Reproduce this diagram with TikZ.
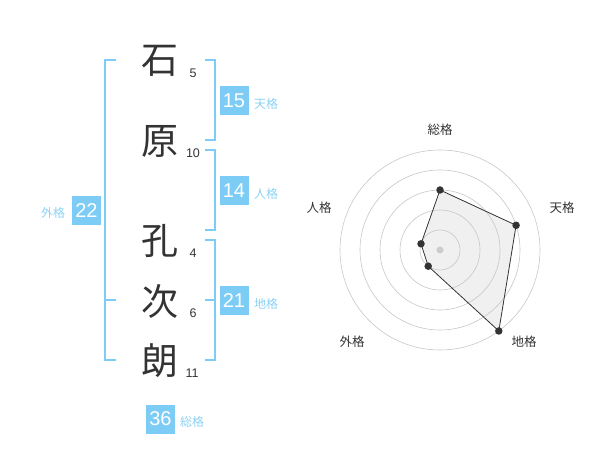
\documentclass[tikz,border=0pt]{standalone}
\usepackage{fontspec}
\setmainfont{Liberation Sans}
\newfontfamily\cjk{Noto Sans CJK JP}
\definecolor{kblue}{RGB}{125,204,246}
\definecolor{klabel}{RGB}{140,210,246}
\definecolor{kdark}{RGB}{51,51,51}
\begin{document}
\begin{tikzpicture}[x=1pt,y=-1pt,
 kanji/.style={font=\cjk\fontsize{37}{37}\selectfont, text=kdark, inner sep=0},
 strokes/.style={font=\fontsize{12.5}{12.5}\selectfont, text=kdark, inner sep=0},
 numbox/.style={fill=kblue, text=white, font=\fontsize{20}{20}\selectfont, minimum width=29pt, minimum height=29pt, inner sep=0},
 kaku/.style={text=klabel, font=\cjk\fontsize{12}{12}\selectfont, inner sep=0},
 brk/.style={draw=kblue, line width=2pt},
 ring/.style={draw=black!22, line width=0.6pt},
 rlabel/.style={font=\cjk\fontsize{12.5}{12.5}\selectfont, text=kdark, inner sep=0},
 rdot/.style={circle, fill=kdark, minimum size=7.5pt, inner sep=0}]
\useasboundingbox (0,0) rectangle (600,470);
% brackets
\draw[brk] (116,60) -- (105,60) -- (105,360) -- (116,360);
\draw[brk] (105,300) -- (116,300);
\draw[brk] (205,60) -- (215,60) -- (215,140) -- (205,140);
\draw[brk] (205,150) -- (215,150) -- (215,230) -- (205,230);
\draw[brk] (205,240) -- (215,240) -- (215,360) -- (205,360);
\draw[brk] (205,300) -- (215,300);
% characters
\node[kanji] (k1) at (160,61) {石};
\node[kanji] (k2) at (160,141) {原};
\node[kanji] (k3) at (160,241) {孔};
\node[kanji] (k4) at (160,301) {次};
\node[kanji] (k5) at (160,361) {朗};
\node[strokes] (s1) at (193,73) {5};
\node[strokes] (s2) at (193,153) {10};
\node[strokes] (s3) at (193,253) {4};
\node[strokes] (s4) at (193,313) {6};
\node[strokes] (s5) at (192,373) {11};
% boxes
\node[numbox] (b1) at (234,101) {15};
\node[kaku] (l1) at (266,104) {天格};
\node[numbox] (b2) at (234,191) {14};
\node[kaku] (l2) at (266,194) {人格};
\node[numbox] (b3) at (234,301) {21};
\node[kaku] (l3) at (266,304) {地格};
\node[numbox] (b4) at (86.5,210.5) {22};
\node[kaku] (l4) at (53,213) {外格};
\node[numbox] (b5) at (160.5,419) {36};
\node[kaku] (l5) at (192,422) {総格};
% radar
\coordinate (c) at (440,250);
\coordinate (q1) at (440.0,190.0);
\coordinate (q2) at (516.1,225.3);
\coordinate (q3) at (498.8,331.0);
\coordinate (q4) at (428.2,266.2);
\coordinate (q5) at (421.0,243.8);
\fill[black!6] (q1) -- (q2) -- (q3) -- (q4) -- (q5) -- cycle;
\foreach \r in {20,40,60,80,100} \draw[ring] (c) circle[radius=\r];
\fill[black!20] (c) circle[radius=3.5];
\draw[kdark, line width=0.8pt] (q1) -- (q2) -- (q3) -- (q4) -- (q5) -- cycle;
\node[rdot] (d1) at (q1) {};
\node[rdot] (d2) at (q2) {};
\node[rdot] (d3) at (q3) {};
\node[rdot] (d4) at (q4) {};
\node[rdot] (d5) at (q5) {};
\node[rlabel] (r1) at (440,130) {総格};
\node[rlabel] (r2) at (562,208) {天格};
\node[rlabel] (r3) at (524,342) {地格};
\node[rlabel] (r4) at (352,342) {外格};
\node[rlabel] (r5) at (319,208) {人格};
\end{tikzpicture}
\end{document}
